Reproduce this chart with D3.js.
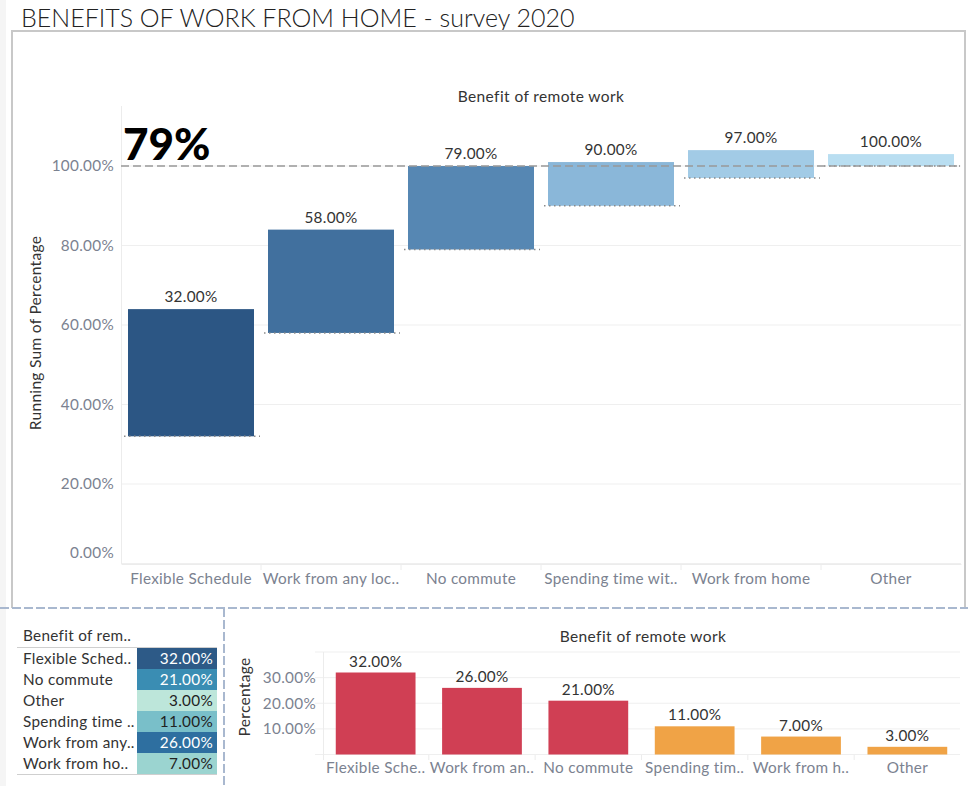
<!DOCTYPE html>
<html>
<head>
<meta charset="utf-8">
<script src="https://cdn.jsdelivr.net/npm/d3@7"></script>
<style>
  html, body { margin: 0; padding: 0; background: #fff; }
  svg { display: block; font-family: Lato, "Open Sans", sans-serif; }
</style>
</head>
<body>
<svg id="chart" width="968" height="786"></svg>
<script>
// ---- data ----
const categories = ["Flexible Schedule", "Work from any location", "No commute", "Spending time with family", "Work from home", "Other"];
const percentages = [32, 26, 21, 11, 7, 3];
const waterfallLabels = ["Flexible Schedule", "Work from any loc..", "No commute", "Spending time wit..", "Work from home", "Other"];
const barLabels = ["Flexible Sche..", "Work from an..", "No commute", "Spending tim..", "Work from h..", "Other"];
const tableRows = ["Flexible Sched..", "No commute", "Other", "Spending time ..", "Work from any..", "Work from ho.."];
const tableValues = [32, 21, 3, 11, 26, 7];
const waterfallTicks = [0, 20, 40, 60, 80, 100];
const barTicks = [10, 20, 30];
const highlightLabel = "79%";

const svg = d3.select("#chart");
const fmt = v => d3.format(".2f")(v) + "%";
const axisColor = "#7b8290";
const textColor = "#333";
const FS = 15.3, LS = 0.3;

function styleText(sel, color) {
  sel.attr("font-size", FS).attr("letter-spacing", LS).attr("fill", color).attr("font-family", "Lato, sans-serif");
}

// background strip & frame
svg.append("rect").attr("x", 0).attr("y", 0).attr("width", 6).attr("height", 786).attr("fill", "#f5f5f5");
svg.append("text").attr("x", 21).attr("y", 27).attr("font-size", 25).attr("font-weight", 300)
  .attr("fill", "#222").text("BENEFITS OF WORK FROM HOME - survey 2020");
svg.append("path").attr("d", "M12,608 L12,31 L965,31 L965,608").attr("fill", "none")
  .attr("stroke", "#c8c8c8").attr("stroke-width", 2);
svg.append("line").attr("x1", 0).attr("x2", 968).attr("y1", 608).attr("y2", 608)
  .attr("stroke", "#a9b8cf").attr("stroke-width", 2).attr("stroke-dasharray", "9,3");
svg.append("line").attr("x1", 224).attr("x2", 224).attr("y1", 608).attr("y2", 786)
  .attr("stroke", "#a9b8cf").attr("stroke-width", 2).attr("stroke-dasharray", "9,3");

// ---- waterfall ----
const running = Array.from(d3.cumsum(percentages));
const wf = categories.map((c, i) => ({ c, label: waterfallLabels[i], p: percentages[i], sum: running[i] }));
const xW = d3.scaleBand().domain(categories).range([121, 961]).paddingInner(0.1).paddingOuter(0.05);
const yW = d3.scaleLinear().domain([0, 115]).range([563.5, 106.4]);
const wfColor = d3.scaleLinear().domain([3, 7, 11, 21, 26, 32])
  .range(["#b9def1", "#a2cbe6", "#8ab7d9", "#5687b3", "#41709e", "#2c5684"]);
const gW = svg.append("g");

gW.append("text").attr("x", 541).attr("y", 102).attr("text-anchor", "middle")
  .attr("font-size", 15.5).attr("letter-spacing", 0.4).attr("fill", textColor).text("Benefit of remote work");

// grid
gW.selectAll(".grid").data(waterfallTicks).join("line")
  .attr("x1", 121).attr("x2", 961).attr("y1", d => yW(d)).attr("y2", d => yW(d))
  .attr("stroke", "#efefef").attr("stroke-width", 1);
gW.append("line").attr("x1", 121.5).attr("x2", 121.5).attr("y1", 106).attr("y2", 564).attr("stroke", "#ececec");

// y axis
const yAxisW = d3.axisLeft(yW).tickValues(waterfallTicks).tickFormat(d => d3.format(".2f")(d) + "%").tickSize(0).tickPadding(7);
const ga = gW.append("g").attr("transform", "translate(121,0)").call(yAxisW);
ga.select(".domain").remove();
styleText(ga.selectAll("text"), axisColor);
ga.selectAll(".tick").filter(d => d === 0).select("text").attr("dy", "-0.4em");
gW.append("text").attr("transform", "translate(41,333) rotate(-90)").attr("text-anchor", "middle")
  .attr("font-size", 15.5).attr("letter-spacing", 0.3).attr("fill", textColor).text("Running Sum of Percentage");

// x axis
const xAxisW = d3.axisBottom(xW).tickFormat((d, i) => waterfallLabels[i]).tickSize(0).tickPadding(9);
const gx = gW.append("g").attr("transform", "translate(0,564)").call(xAxisW);
gx.select(".domain").attr("stroke", "#ececec");
styleText(gx.selectAll("text"), axisColor);
const step = xW.step();
gW.selectAll(".sep").data(categories.slice(1)).join("line")
  .attr("x1", d => xW(d) - xW.paddingInner() * step / 2).attr("x2", d => xW(d) - xW.paddingInner() * step / 2)
  .attr("y1", 564).attr("y2", 570).attr("stroke", "#ececec");

// bars
gW.selectAll(".wbar").data(wf).join("rect")
  .attr("x", d => xW(d.c)).attr("width", xW.bandwidth())
  .attr("y", d => yW(d.sum + d.p)).attr("height", d => yW(d.sum) - yW(d.sum + d.p))
  .attr("fill", d => wfColor(d.p));
// dotted lines at running sum
gW.selectAll(".dot").data(wf).join("line")
  .attr("x1", d => xW(d.c) - 4).attr("x2", d => xW(d.c) + xW.bandwidth() + 6)
  .attr("y1", d => yW(d.sum)).attr("y2", d => yW(d.sum))
  .attr("stroke", "#8a8a8a").attr("stroke-width", 1.5).attr("stroke-dasharray", "1.5,3.5");
// labels
const wl = gW.selectAll(".wlab").data(wf).join("text")
  .attr("x", d => xW(d.c) + xW.bandwidth() / 2).attr("y", d => yW(d.sum + d.p) - 7)
  .attr("text-anchor", "middle").text(d => fmt(d.sum));
styleText(wl, textColor);
// reference line at 100%
gW.append("line").attr("x1", 121).attr("x2", 961).attr("y1", yW(100)).attr("y2", yW(100))
  .attr("stroke", "#999").attr("stroke-width", 1.5).attr("stroke-dasharray", "8,4");
gW.append("text").attr("x", 123).attr("y", 160).attr("font-size", 44).attr("font-weight", 900)
  .attr("fill", "#000").text(highlightLabel);

// ---- table ----
const gT = svg.append("g");
const rowH = 21;
const yT = d3.scaleBand().domain(tableRows).range([648, 648 + rowH * tableRows.length]);
const tColor = d3.scaleLinear().domain([3, 7, 11, 21, 26, 32])
  .range(["#bde6da", "#9bd4d0", "#79bfc9", "#3a8db3", "#2e6fa0", "#2d5a87"]);
styleText(gT.append("text").attr("x", 23).attr("y", 641).text("Benefit of rem.."), textColor);
gT.append("line").attr("x1", 17).attr("x2", 217).attr("y1", 647.5).attr("y2", 647.5).attr("stroke", "#cfcfcf");
gT.selectAll(".cell").data(tableRows).join("rect")
  .attr("x", 137).attr("width", 80).attr("y", d => yT(d)).attr("height", rowH)
  .attr("fill", (d, i) => tColor(tableValues[i]));
styleText(gT.selectAll(".rlab").data(tableRows).join("text")
  .attr("x", 23).attr("y", d => yT(d) + rowH / 2 + 5).text(d => d), textColor);
const rv = gT.selectAll(".rval").data(tableRows).join("text")
  .attr("x", 213).attr("y", d => yT(d) + rowH / 2 + 5).attr("text-anchor", "end").text((d, i) => fmt(tableValues[i]));
styleText(rv, "#222");
rv.attr("fill", (d, i) => tableValues[i] > 15 ? "#fff" : "#222");
gT.append("line").attr("x1", 17).attr("x2", 217).attr("y1", 648 + rowH * tableRows.length + 0.5)
  .attr("y2", 648 + rowH * tableRows.length + 0.5).attr("stroke", "#cfcfcf");

// ---- bottom bar chart ----
const gB = svg.append("g");
const xB = d3.scaleBand().domain(categories).range([323, 960]).paddingInner(0.25).paddingOuter(0.12);
const yB = d3.scaleLinear().domain([0, 40]).range([754.5, 652]);
gB.append("text").attr("x", 643).attr("y", 642).attr("text-anchor", "middle")
  .attr("font-size", 15.5).attr("letter-spacing", 0.4).attr("fill", textColor).text("Benefit of remote work");
gB.selectAll(".bgrid").data([0, 10, 20, 30, 40]).join("line")
  .attr("x1", 315).attr("x2", 960).attr("y1", d => yB(d)).attr("y2", d => yB(d)).attr("stroke", "#efefef");
gB.append("line").attr("x1", 323.5).attr("x2", 323.5).attr("y1", 652).attr("y2", 760).attr("stroke", "#ececec");
const yAxisB = d3.axisLeft(yB).tickValues(barTicks).tickFormat(d => d3.format(".2f")(d) + "%").tickSize(0).tickPadding(7);
const gba = gB.append("g").attr("transform", "translate(323,0)").call(yAxisB);
gba.select(".domain").remove();
styleText(gba.selectAll("text"), axisColor);
gB.append("text").attr("transform", "translate(250,697) rotate(-90)").attr("text-anchor", "middle")
  .attr("font-size", 15.5).attr("letter-spacing", 0.3).attr("fill", textColor).text("Percentage");
const xAxisB = d3.axisBottom(xB).tickFormat((d, i) => barLabels[i]).tickSize(0).tickPadding(7);
const gbx = gB.append("g").attr("transform", "translate(0,755)").call(xAxisB);
gbx.select(".domain").remove();
styleText(gbx.selectAll("text"), axisColor);
const stepB = xB.step();
gB.selectAll(".bsep").data(categories.slice(1)).join("line")
  .attr("x1", d => xB(d) - xB.paddingInner() * stepB / 2).attr("x2", d => xB(d) - xB.paddingInner() * stepB / 2)
  .attr("y1", 755).attr("y2", 760).attr("stroke", "#ececec");
gB.selectAll(".bbar").data(categories).join("rect")
  .attr("x", d => xB(d)).attr("width", xB.bandwidth())
  .attr("y", (d, i) => yB(percentages[i])).attr("height", (d, i) => yB(0) - yB(percentages[i]))
  .attr("fill", (d, i) => percentages[i] > 15 ? "#d03f54" : "#f0a346");
styleText(gB.selectAll(".blab").data(categories).join("text")
  .attr("x", d => xB(d) + xB.bandwidth() / 2).attr("y", (d, i) => yB(percentages[i]) - 6)
  .attr("text-anchor", "middle").text((d, i) => fmt(percentages[i])), textColor);
</script>
</body>
</html>
